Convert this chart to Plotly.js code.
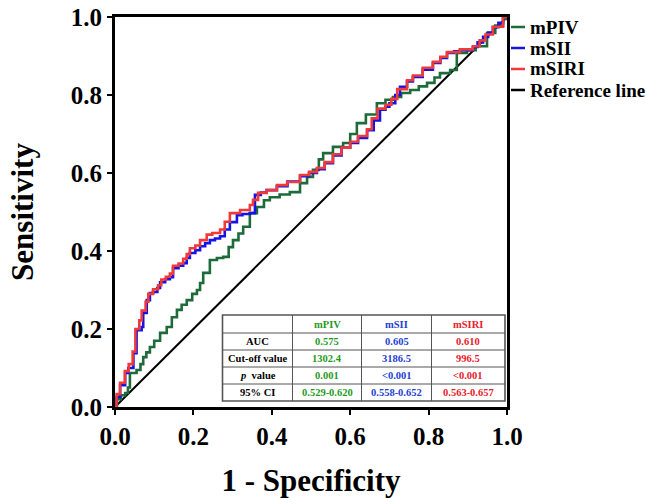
<!DOCTYPE html>
<html>
<head>
<meta charset="utf-8">
<script src="https://cdn.plot.ly/plotly-3.0.1.min.js"></script>
<style>html,body{margin:0;padding:0;background:#fff;}#chart{width:647px;height:498px;}</style>
</head>
<body>
<div id="chart"></div>
<script>
// ---- data ----
const seriesNames = ['mPIV', 'mSII', 'mSIRI'];
const seriesColors = ['#1d6b3a', '#1414e6', '#f03a3a'];
const tableTextColors = ['#1f9a1f', '#2340d6', '#e8202a'];

const mPIV_fpr = [0,0.005,0.015,0.026,0.033,0.038,0.055,0.065,0.072,0.08,0.089,0.1,0.115,0.132,0.145,0.158,0.17,0.183,0.197,0.209,0.217,0.225,0.242,0.26,0.276,0.29,0.301,0.315,0.327,0.344,0.362,0.38,0.395,0.42,0.446,0.472,0.49,0.505,0.52,0.531,0.556,0.582,0.6,0.617,0.64,0.668,0.69,0.709,0.73,0.753,0.775,0.796,0.815,0.829,0.855,0.872,0.898,0.92,0.949,0.97,0.99,1];
const mPIV_tpr = [0,0.02,0.03,0.036,0.05,0.087,0.095,0.11,0.128,0.14,0.154,0.17,0.19,0.205,0.23,0.249,0.262,0.274,0.29,0.30,0.318,0.344,0.377,0.382,0.385,0.41,0.428,0.445,0.462,0.497,0.513,0.53,0.538,0.545,0.551,0.574,0.59,0.608,0.635,0.651,0.667,0.677,0.7,0.728,0.75,0.779,0.788,0.795,0.805,0.813,0.822,0.831,0.845,0.856,0.864,0.908,0.915,0.925,0.959,0.978,0.995,1];

const mSII_fpr = [0,0.004,0.013,0.026,0.034,0.047,0.055,0.068,0.072,0.081,0.089,0.097,0.108,0.115,0.128,0.14,0.148,0.162,0.174,0.183,0.191,0.205,0.217,0.23,0.242,0.255,0.268,0.28,0.293,0.311,0.325,0.344,0.357,0.372,0.387,0.413,0.44,0.472,0.495,0.515,0.535,0.556,0.578,0.6,0.62,0.643,0.66,0.676,0.69,0.70,0.715,0.727,0.745,0.76,0.785,0.811,0.83,0.847,0.865,0.88,0.913,0.925,0.939,0.952,0.964,0.978,0.99,1];
const mSII_tpr = [0,0.026,0.056,0.087,0.1,0.138,0.197,0.205,0.241,0.274,0.292,0.295,0.305,0.32,0.328,0.333,0.356,0.362,0.369,0.382,0.395,0.402,0.412,0.42,0.428,0.432,0.438,0.455,0.474,0.492,0.495,0.497,0.544,0.55,0.556,0.566,0.578,0.592,0.6,0.61,0.625,0.645,0.665,0.677,0.69,0.71,0.735,0.762,0.77,0.779,0.8,0.821,0.835,0.846,0.865,0.882,0.895,0.908,0.912,0.915,0.923,0.935,0.949,0.96,0.974,0.985,1,1];

const mSIRI_fpr = [0,0.004,0.013,0.025,0.035,0.045,0.052,0.062,0.068,0.078,0.085,0.097,0.11,0.118,0.13,0.14,0.148,0.162,0.174,0.183,0.191,0.205,0.217,0.234,0.248,0.268,0.28,0.293,0.319,0.344,0.352,0.365,0.387,0.413,0.439,0.472,0.495,0.515,0.535,0.556,0.578,0.6,0.62,0.643,0.655,0.67,0.69,0.705,0.72,0.745,0.76,0.785,0.811,0.83,0.847,0.88,0.913,0.93,0.945,0.964,0.99,1];
const mSIRI_tpr = [0,0.033,0.062,0.092,0.11,0.142,0.2,0.222,0.247,0.27,0.29,0.302,0.312,0.327,0.334,0.342,0.362,0.368,0.38,0.392,0.407,0.414,0.428,0.442,0.446,0.455,0.475,0.497,0.505,0.518,0.531,0.549,0.556,0.569,0.577,0.595,0.603,0.613,0.628,0.648,0.665,0.68,0.695,0.712,0.74,0.765,0.775,0.79,0.815,0.838,0.85,0.87,0.885,0.898,0.91,0.917,0.925,0.94,0.955,0.975,1,1];

const refLine_x = [0, 1];
const refLine_y = [0, 1];

const tickVals = [0, 0.2, 0.4, 0.6, 0.8, 1.0];
const tickLabels = ['0.0', '0.2', '0.4', '0.6', '0.8', '1.0'];

const tableRowLabels = ['AUC', 'Cut-off value', '<i>p</i>  value', '95% CI'];
const aucVals = ['0.575', '0.605', '0.610'];
const cutoffVals = ['1302.4', '3186.5', '996.5'];
const pVals = ['0.001', '<0.001', '<0.001'];
const ciVals = ['0.529-0.620', '0.558-0.652', '0.563-0.657'];

const legendNames = ['mPIV', 'mSII', 'mSIRI', 'Reference line'];
const legendColors = ['#1d6b3a', '#1414e6', '#f03a3a', '#000000'];

// ---- build ----
const FONT = 'Liberation Serif, Times New Roman, serif';
const PL = 115, PT = 17, PW = 392, PH = 390;
const px2x = p => (p - PL) / PW;
const px2y = p => (PT + PH - p) / PH;

const curves = [[mPIV_fpr, mPIV_tpr], [mSII_fpr, mSII_tpr], [mSIRI_fpr, mSIRI_tpr]];
const traces = [{
  x: refLine_x, y: refLine_y, type: 'scatter', mode: 'lines', name: 'Reference line',
  line: {color: '#000', width: 2}, showlegend: false, hoverinfo: 'skip'
}];
curves.forEach((c, i) => {
  traces.push({
    x: c[0], y: c[1], type: 'scatter', mode: 'lines', name: seriesNames[i],
    line: {color: seriesColors[i], width: 2.6, shape: 'hv'}, showlegend: false
  });
});

const b = s => '<b>' + s + '</b>';
const shapes = [];
const annotations = [];

// table (shapes + annotations)
const colEdges = [222.5, 292.5, 361.5, 431.5, 505];
const rowEdges = [315, 333, 350, 367, 384, 401];
shapes.push({type: 'rect', xref: 'paper', yref: 'paper', layer: 'above',
  x0: px2x(colEdges[0]), x1: px2x(colEdges[4]), y0: px2y(rowEdges[0]), y1: px2y(rowEdges[5]),
  fillcolor: '#fff', line: {color: '#555', width: 1.6}});
for (let i = 1; i < colEdges.length - 1; i++) {
  shapes.push({type: 'line', xref: 'paper', yref: 'paper',
    x0: px2x(colEdges[i]), x1: px2x(colEdges[i]), y0: px2y(rowEdges[0]), y1: px2y(rowEdges[5]),
    line: {color: '#555', width: 1}});
}
for (let j = 1; j < rowEdges.length - 1; j++) {
  shapes.push({type: 'line', xref: 'paper', yref: 'paper',
    x0: px2x(colEdges[0]), x1: px2x(colEdges[4]), y0: px2y(rowEdges[j]), y1: px2y(rowEdges[j]),
    line: {color: '#555', width: 1}});
}
const cellText = (txt, ci, ri, color) => {
  annotations.push({xref: 'paper', yref: 'paper',
    x: px2x((colEdges[ci] + colEdges[ci + 1]) / 2), y: px2y((rowEdges[ri] + rowEdges[ri + 1]) / 2),
    xanchor: 'center', yanchor: 'middle', showarrow: false, text: b(txt),
    font: {family: FONT, size: 10.5, color: color}});
};
seriesNames.forEach((n, i) => cellText(n, i + 1, 0, tableTextColors[i]));
tableRowLabels.forEach((r, j) => cellText(r, 0, j + 1, '#000'));
const rows = [aucVals, cutoffVals, pVals.map(v => v.replace('<', '&lt;')), ciVals];
rows.forEach((vals, j) => vals.forEach((v, i) => cellText(v, i + 1, j + 1, tableTextColors[i])));

// legend (drawn beside the plot)
const legY = [27, 48, 69, 90];
legendNames.forEach((n, i) => {
  const py = px2y(legY[i]);
  shapes.push({type: 'line', xref: 'paper', yref: 'paper',
    x0: px2x(511), x1: px2x(525), y0: py, y1: py,
    line: {color: legendColors[i], width: 2.5}});
  annotations.push({xref: 'paper', yref: 'paper', x: px2x(528), y: py,
    xanchor: 'left', yanchor: 'middle', showarrow: false, text: b(n),
    font: {family: FONT, size: 19, color: '#000'}});
});

const axisCommon = {
  range: [0, 1], tickvals: tickVals, ticktext: tickLabels,
  showline: true, linecolor: '#000', linewidth: 3, mirror: true,
  ticks: 'outside', ticklen: 5, tickwidth: 2, tickcolor: '#000',
  showgrid: false, zeroline: false, fixedrange: true,
  tickfont: {family: FONT, size: 25, color: '#000', weight: 'bold'}
};

const layout = {
  width: 647, height: 498,
  margin: {l: 115, r: 140, t: 17, b: 91},
  paper_bgcolor: '#fff', plot_bgcolor: '#fff',
  showlegend: false,
  xaxis: Object.assign({}, axisCommon, {
    title: {text: '<b>1 - Specificity</b>', font: {family: FONT, size: 31, color: '#000'}, standoff: 30}
  }),
  yaxis: Object.assign({}, axisCommon, {
    title: {text: '<b>Sensitivity</b>', font: {family: FONT, size: 31, color: '#000'}, standoff: 28}
  }),
  shapes: shapes,
  annotations: annotations
};

Plotly.newPlot('chart', traces, layout, {displayModeBar: false, staticPlot: true});
</script>
</body>
</html>
